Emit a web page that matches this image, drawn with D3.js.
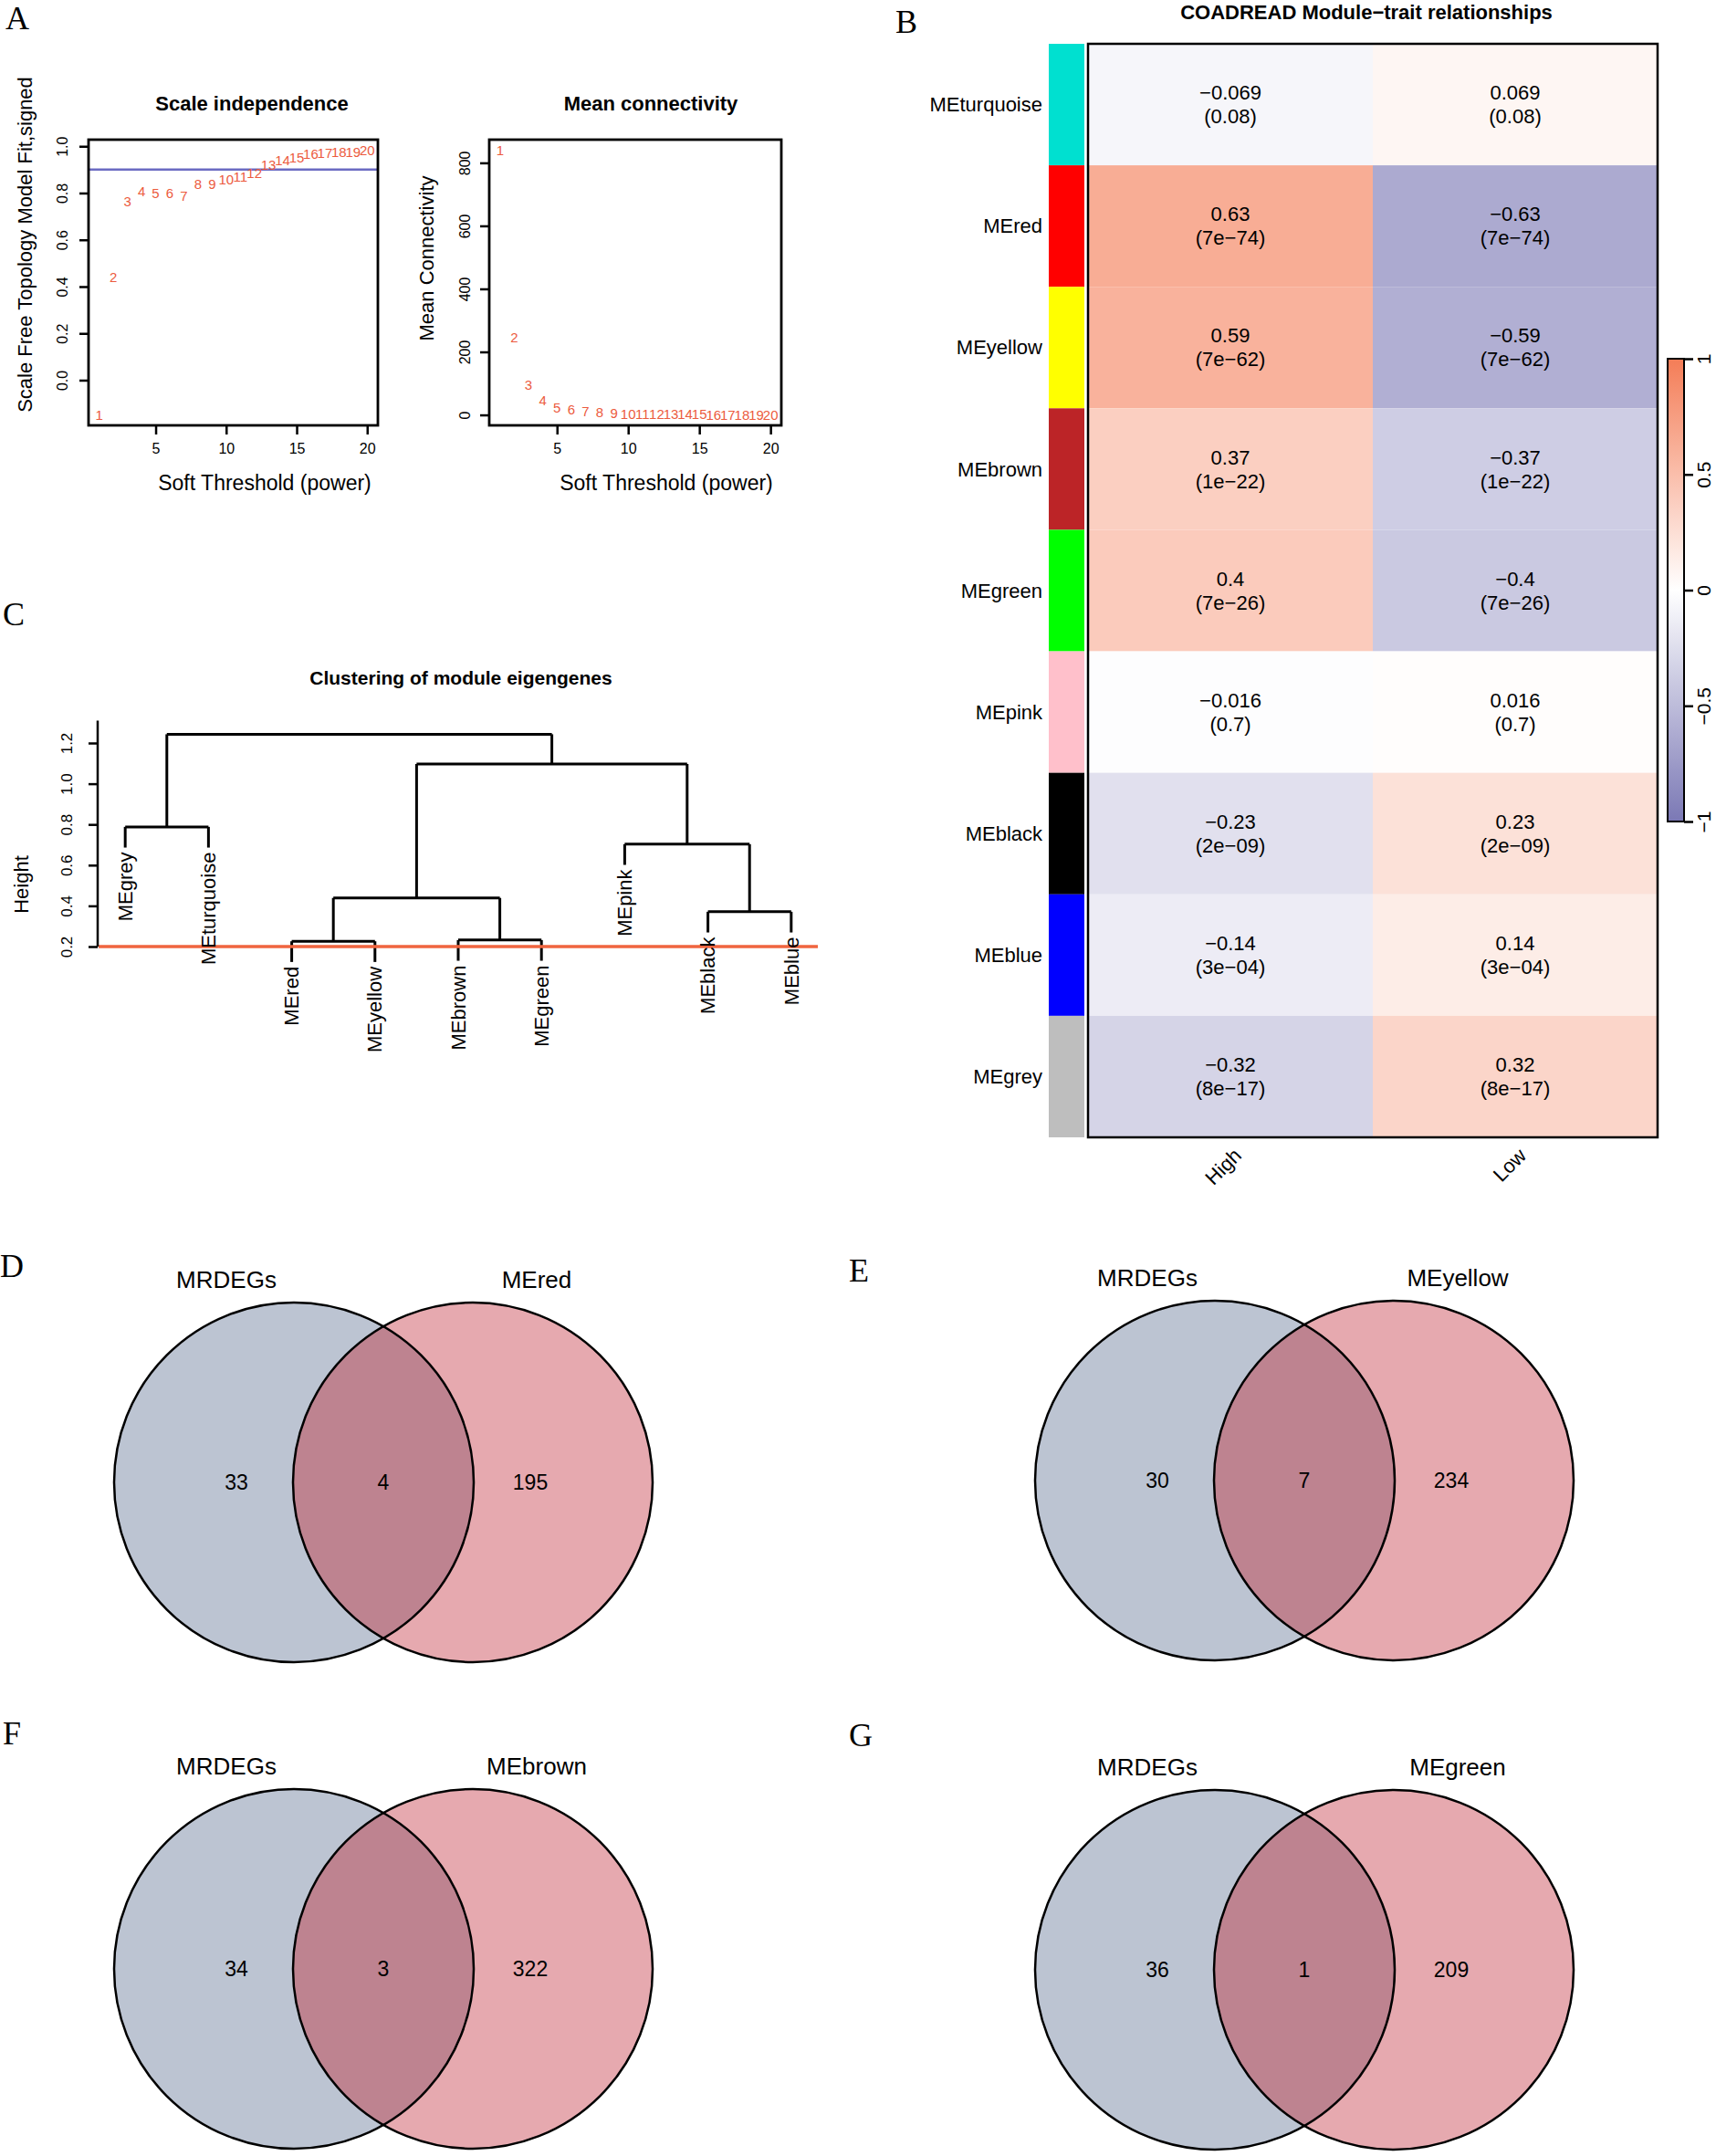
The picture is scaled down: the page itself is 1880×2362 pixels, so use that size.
<!DOCTYPE html>
<html>
<head>
<meta charset="utf-8">
<script src="https://cdn.jsdelivr.net/npm/d3@7"></script>
<style>
  body { margin: 0; background: #fff; }
  svg { display: block; font-family: "Liberation Sans", Arial, sans-serif; }
  .letter { font-family: "Liberation Serif", "DejaVu Serif", serif; font-size: 36px; }
</style>
</head>
<body>
<svg id="main-svg" width="1880" height="2362"></svg>
<script>
// ---- data ----
const powers = [1, 2, 3, 4, 5, 6, 7, 8, 9, 10, 11, 12, 13, 14, 15, 16, 17, 18, 19, 20];
const scaleFit = [-0.148, 0.44, 0.765, 0.806, 0.80, 0.798, 0.789, 0.838, 0.838, 0.859,
                  0.87, 0.885, 0.92, 0.94, 0.952, 0.965, 0.969, 0.976, 0.976, 0.983];
const meanK = [840, 247, 94, 45, 24, 16, 10.5, 7, 5, 3.5, 2.6, 2, 1.5, 1.2, 1, 0.8, 0.7, 0.6, 0.5, 0.4];
const fitCut = 0.9;
const fitTicks = [0, 0.2, 0.4, 0.6, 0.8, 1.0];
const kTicks = [0, 200, 400, 600, 800];
const powerTicks = [5, 10, 15, 20];

const modules = ["MEturquoise", "MEred", "MEyellow", "MEbrown", "MEgreen", "MEpink", "MEblack", "MEblue", "MEgrey"];
const moduleColors = ["#00E0D0", "#FF0000", "#FFFF00", "#BC2427", "#00FF00", "#FFC0CB", "#000000", "#0000FF", "#BEBEBE"];
const traits = ["High", "Low"];
const corHigh = [-0.069, 0.63, 0.59, 0.37, 0.4, -0.016, -0.23, -0.14, -0.32];
const corLow = [0.069, -0.63, -0.59, -0.37, -0.4, 0.016, 0.23, 0.14, 0.32];
const pvals = ["0.08", "7e−74", "7e−62", "1e−22", "7e−26", "0.7", "2e−09", "3e−04", "8e−17"];
const legendTicks = [-1, -0.5, 0, 0.5, 1];

const leafOrder = ["MEgrey", "MEturquoise", "MEred", "MEyellow", "MEbrown", "MEgreen", "MEpink", "MEblack", "MEblue"];
const mergePairs = [["MEred", "MEyellow"], ["MEbrown", "MEgreen"], ["MEblack", "MEblue"], ["m1", "m2"],
                    ["MEpink", "m3"], ["MEgrey", "MEturquoise"], ["m4", "m5"], ["m6", "m7"]];
const mergeHeights = [0.226, 0.232, 0.371, 0.439, 0.703, 0.788, 1.097, 1.243];
const heightTicks = [0.2, 0.4, 0.6, 0.8, 1.0, 1.2];
const cutHeight = 0.2;

const vennLetters = ["D", "E", "F", "G"];
const vennModules = ["MEred", "MEyellow", "MEbrown", "MEgreen"];
const vennLeftOnly = [33, 30, 34, 36];
const vennShared = [4, 7, 3, 1];
const vennRightOnly = [195, 234, 322, 209];

const svg = d3.select("#main-svg");
const ptRed = "#EC5B3E";

function letter(t, x, y) {
  svg.append("text").attr("class", "letter").attr("x", x).attr("y", y).text(t);
}

// ---- panel A ----
function scatterPlot(o) {
  const g = svg.append("g");
  const pad = e => { const r = e[1] - e[0]; return [e[0] - 0.04 * r, e[1] + 0.04 * r]; };
  const x = d3.scaleLinear().domain(pad(d3.extent(powers))).range([o.left, o.right]);
  const y = d3.scaleLinear().domain(pad(d3.extent(o.values))).range([466, 153]);

  if (o.cut !== undefined) {
    g.append("line").attr("x1", o.left).attr("x2", o.right)
      .attr("y1", y(o.cut)).attr("y2", y(o.cut))
      .attr("stroke", "#6B6BC2").attr("stroke-width", 2.5);
  }

  const xa = g.append("g").attr("transform", "translate(0,466)")
    .call(d3.axisBottom(x).tickValues(powerTicks).tickSize(10).tickPadding(10));
  xa.select(".domain").remove();
  xa.selectAll("line").attr("stroke-width", 2.5);
  xa.selectAll("text").attr("font-size", 16).attr("fill", "#000");

  const ya = g.append("g").attr("transform", `translate(${o.left},0)`)
    .call(d3.axisLeft(y).tickValues(o.ticks).tickSize(10).tickFormat(o.fmt));
  ya.select(".domain").remove();
  ya.selectAll("line").attr("stroke-width", 2.5);
  ya.selectAll("text").attr("font-size", 16).attr("fill", "#000")
    .attr("text-anchor", "middle").attr("transform", "rotate(-90)")
    .attr("x", 0).attr("y", -o.tickGap).attr("dy", 0);

  g.append("rect").attr("x", o.left).attr("y", 153)
    .attr("width", o.right - o.left).attr("height", 313)
    .attr("fill", "none").attr("stroke", "#000").attr("stroke-width", 2.8);

  g.selectAll(".pt").data(powers).join("text")
    .attr("x", d => x(d)).attr("y", (d, i) => y(o.values[i]))
    .attr("dy", "0.35em").attr("text-anchor", "middle")
    .attr("font-size", 15).attr("fill", ptRed).text(d => d);

  g.append("text").attr("x", o.titleX).attr("y", 113).attr("dy", "0.35em")
    .attr("text-anchor", "middle").attr("font-weight", "bold").attr("font-size", 22).text(o.title);
  g.append("text").attr("x", o.xlabX).attr("y", 529).attr("dy", "0.35em")
    .attr("text-anchor", "middle").attr("font-size", 23).text("Soft Threshold (power)");
  g.append("text").attr("transform", `translate(${o.ylabX},${o.ylabY}) rotate(-90)`)
    .attr("dy", "0.35em").attr("text-anchor", "middle").attr("font-size", 22).text(o.ylab);
}

letter("A", 6, 32);
scatterPlot({ left: 97, right: 414, values: scaleFit, cut: fitCut, ticks: fitTicks, fmt: d3.format(".1f"),
  tickGap: 23, title: "Scale independence", titleX: 276, xlabX: 290,
  ylab: "Scale Free Topology Model Fit,signed", ylabX: 27, ylabY: 268 });
scatterPlot({ left: 536, right: 856, values: meanK, ticks: kTicks, fmt: d3.format("d"),
  tickGap: 21, title: "Mean connectivity", titleX: 713, xlabX: 730,
  ylab: "Mean Connectivity", ylabX: 467, ylabY: 283 });

// ---- panel B ----
letter("B", 981, 36);
const hx = d3.scaleBand().domain(traits).range([1192, 1816]);
const hy = d3.scaleBand().domain(modules).range([48, 1246]);
const heatColor = d3.scaleLinear().domain([-1, 0, 1]).range(["#7B78B5", "#FFFFFF", "#F47D57"]);
const cells = [];
modules.forEach((m, i) => {
  cells.push({ m, t: "High", r: corHigh[i], p: pvals[i] });
  cells.push({ m, t: "Low", r: corLow[i], p: pvals[i] });
});
const fmtCor = v => (v < 0 ? "−" : "") + String(Math.abs(v));

svg.append("text").attr("x", 1497).attr("y", 13).attr("dy", "0.35em")
  .attr("text-anchor", "middle").attr("font-weight", "bold").attr("font-size", 22)
  .text("COADREAD Module−trait relationships");

svg.selectAll(".mcol").data(modules).join("rect")
  .attr("x", 1149).attr("width", 39)
  .attr("y", d => hy(d)).attr("height", hy.bandwidth())
  .attr("fill", (d, i) => moduleColors[i]);

svg.selectAll(".cell").data(cells).join("rect")
  .attr("x", d => hx(d.t)).attr("y", d => hy(d.m))
  .attr("width", hx.bandwidth()).attr("height", hy.bandwidth())
  .attr("fill", d => heatColor(d.r));

const ct = svg.selectAll(".ctext").data(cells).join("text")
  .attr("text-anchor", "middle").attr("font-size", 22)
  .attr("x", d => hx(d.t) + hx.bandwidth() / 2);
ct.append("tspan").attr("x", d => hx(d.t) + hx.bandwidth() / 2)
  .attr("y", d => hy(d.m) + hy.bandwidth() / 2 - 13).attr("dy", "0.35em").text(d => fmtCor(d.r));
ct.append("tspan").attr("x", d => hx(d.t) + hx.bandwidth() / 2)
  .attr("y", d => hy(d.m) + hy.bandwidth() / 2 + 13).attr("dy", "0.35em").text(d => `(${d.p})`);

svg.append("rect").attr("x", 1192).attr("y", 48).attr("width", 624).attr("height", 1198)
  .attr("fill", "none").attr("stroke", "#000").attr("stroke-width", 2.5);

svg.selectAll(".rlab").data(modules).join("text")
  .attr("x", 1142).attr("y", d => hy(d) + hy.bandwidth() / 2).attr("dy", "0.35em")
  .attr("text-anchor", "end").attr("font-size", 22).text(d => d);

svg.selectAll(".clab").data(traits).join("text")
  .attr("transform", d => `translate(${hx(d) + hx.bandwidth() / 2 + 8},1262) rotate(-45)`)
  .attr("text-anchor", "end").attr("dy", "0.35em").attr("font-size", 22).text(d => d);

// colour legend
const ly = d3.scaleLinear().domain([-1, 1]).range([900, 393]);
const grad = svg.append("defs").append("linearGradient").attr("id", "cbar")
  .attr("x1", 0).attr("y1", 1).attr("x2", 0).attr("y2", 0);
d3.range(0, 1.0001, 0.05).forEach(t => {
  grad.append("stop").attr("offset", t).attr("stop-color", heatColor(-1 + 2 * t));
});
svg.append("rect").attr("x", 1827).attr("y", 393).attr("width", 18).attr("height", 507)
  .attr("fill", "url(#cbar)").attr("stroke", "#000").attr("stroke-width", 2);
const la = svg.append("g").attr("transform", "translate(1845,0)")
  .call(d3.axisRight(ly).tickValues(legendTicks).tickSize(10).tickFormat(d3.format("")));
la.select(".domain").remove();
la.selectAll("line").attr("stroke-width", 2.5);
la.selectAll("text").attr("font-size", 21).attr("fill", "#000")
  .attr("text-anchor", "middle").attr("transform", "rotate(-90)")
  .attr("x", 0).attr("y", 29).attr("dy", 0);

// ---- panel C ----
letter("C", 3, 685);
svg.append("text").attr("x", 505).attr("y", 743).attr("dy", "0.35em")
  .attr("text-anchor", "middle").attr("font-weight", "bold").attr("font-size", 21)
  .text("Clustering of module eigengenes");

const dx = d3.scaleLinear().domain([1 - 0.04 * 8, 9 + 0.04 * 8]).range([108, 896]);
const dy = d3.scaleLinear().domain([0.2, 1.2]).range([1037, 814]);
const hang = 0.1 * (d3.max(mergeHeights) - d3.min(mergeHeights));
const nodes = {};
leafOrder.forEach((n, i) => { nodes[n] = { x: dx(i + 1), leaf: true }; });
const dg = svg.append("g").attr("stroke", "#000").attr("stroke-width", 3).attr("fill", "none");
const leafEnds = {};
mergePairs.forEach((pair, i) => {
  const h = mergeHeights[i];
  const a = nodes[pair[0]], b = nodes[pair[1]];
  [a, b].forEach((c, k) => {
    const bottom = c.leaf ? h - hang : c.h;
    if (c.leaf) leafEnds[pair[k]] = bottom;
    dg.append("line").attr("x1", c.x).attr("x2", c.x).attr("y1", dy(bottom)).attr("y2", dy(h));
  });
  dg.append("line").attr("x1", a.x).attr("x2", b.x).attr("y1", dy(h)).attr("y2", dy(h));
  nodes["m" + (i + 1)] = { x: (a.x + b.x) / 2, h };
});

svg.append("line").attr("x1", 108).attr("x2", 896).attr("y1", dy(cutHeight)).attr("y2", dy(cutHeight))
  .attr("stroke", "#F0653F").attr("stroke-width", 3.5);

svg.selectAll(".leaf").data(leafOrder).join("text")
  .attr("transform", d => `translate(${nodes[d].x},${dy(leafEnds[d]) + 5}) rotate(-90)`)
  .attr("text-anchor", "end").attr("dy", "0.35em").attr("font-size", 22).text(d => d);

const ha = svg.append("g").attr("transform", "translate(107,0)")
  .call(d3.axisLeft(dy).tickValues(heightTicks).tickSize(10).tickFormat(d3.format(".1f")));
ha.select(".domain").remove();
ha.selectAll("line").attr("stroke-width", 2.5);
ha.selectAll("text").attr("font-size", 17).attr("fill", "#000")
  .attr("text-anchor", "middle").attr("transform", "rotate(-90)")
  .attr("x", 0).attr("y", -28).attr("dy", 0);
svg.append("line").attr("x1", 107).attr("x2", 107).attr("y1", dy(0.2)).attr("y2", dy(1.31))
  .attr("stroke", "#000").attr("stroke-width", 2.5);
svg.append("text").attr("transform", "translate(23,969) rotate(-90)").attr("dy", "0.35em")
  .attr("text-anchor", "middle").attr("font-size", 22).text("Height");

// ---- panels D-G ----
const vennPos = [
  { lx: 0, ly: 1399, cx: 322, cy: 1624 },
  { lx: 930, ly: 1404, cx: 1331, cy: 1622 },
  { lx: 3, ly: 1911, cx: 322, cy: 2157 },
  { lx: 930, ly: 1913, cx: 1331, cy: 2158 }
];
const R = 197, D = 196;
const defs = svg.select("defs");
vennModules.forEach((m, i) => {
  const p = vennPos[i];
  letter(vennLetters[i], p.lx, p.ly);
  const g = svg.append("g");
  defs.append("clipPath").attr("id", "vclip" + i)
    .append("circle").attr("cx", p.cx).attr("cy", p.cy).attr("r", R);
  g.append("circle").attr("cx", p.cx).attr("cy", p.cy).attr("r", R).attr("fill", "#BCC4D2");
  g.append("circle").attr("cx", p.cx + D).attr("cy", p.cy).attr("r", R).attr("fill", "#E6A9AF");
  g.append("circle").attr("cx", p.cx + D).attr("cy", p.cy).attr("r", R).attr("fill", "#BE8390")
    .attr("clip-path", `url(#vclip${i})`);
  g.append("circle").attr("cx", p.cx).attr("cy", p.cy).attr("r", R)
    .attr("fill", "none").attr("stroke", "#000").attr("stroke-width", 2.5);
  g.append("circle").attr("cx", p.cx + D).attr("cy", p.cy).attr("r", R)
    .attr("fill", "none").attr("stroke", "#000").attr("stroke-width", 2.5);
  g.append("text").attr("x", p.cx - 74).attr("y", p.cy - 222).attr("dy", "0.35em")
    .attr("text-anchor", "middle").attr("font-size", 26).text("MRDEGs");
  g.append("text").attr("x", p.cx + D + 70).attr("y", p.cy - 222).attr("dy", "0.35em")
    .attr("text-anchor", "middle").attr("font-size", 26).text(m);
  const nums = [vennLeftOnly[i], vennShared[i], vennRightOnly[i]];
  const nx = [p.cx - 63, p.cx + D / 2, p.cx + D + 63];
  nums.forEach((n, k) => {
    g.append("text").attr("x", nx[k]).attr("y", p.cy).attr("dy", "0.35em")
      .attr("text-anchor", "middle").attr("font-size", 23).text(n);
  });
});
</script>
</body>
</html>
